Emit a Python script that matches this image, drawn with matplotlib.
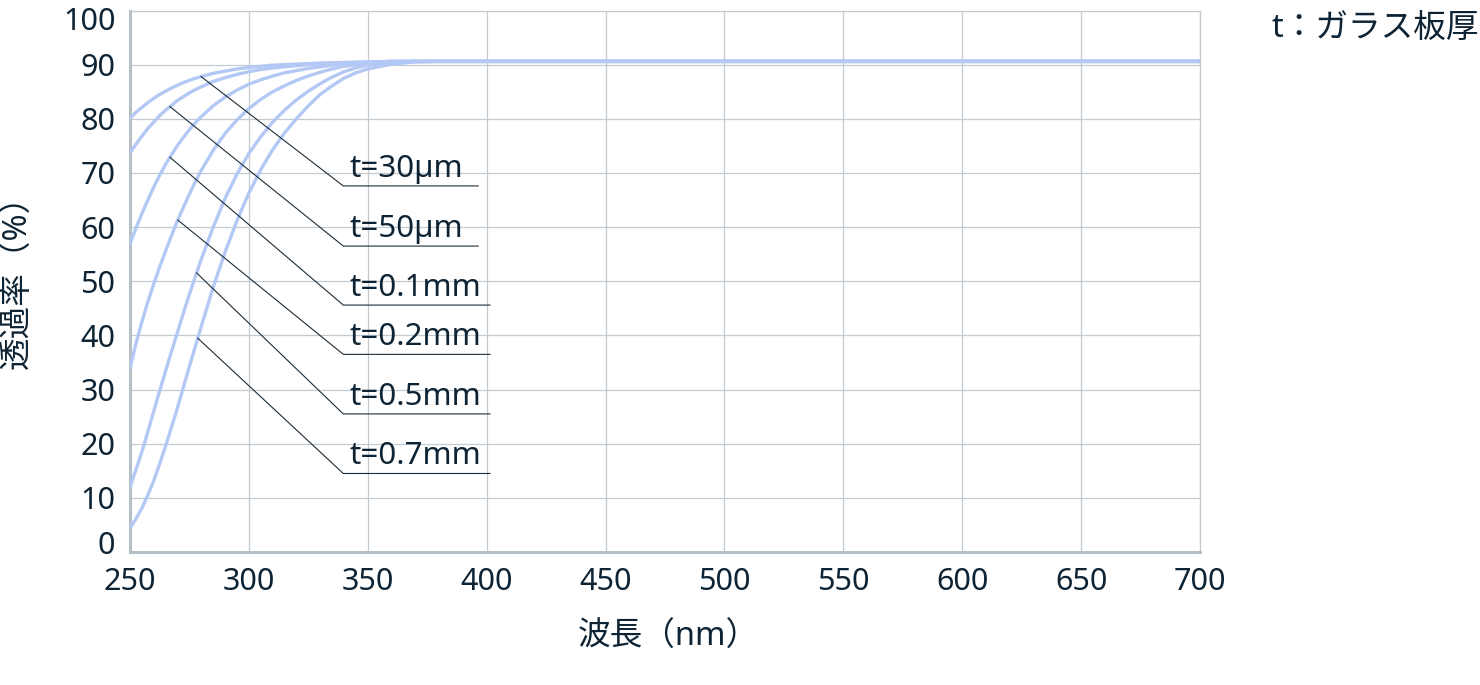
import matplotlib
matplotlib.use('Agg')
import matplotlib.pyplot as plt
from matplotlib.transforms import ScaledTranslation
import numpy as np

plt.rcParams['font.family'] = ['Noto Sans', 'Noto Sans CJK JP', 'DejaVu Sans']

# 波長 (nm)
wavelength = [250, 252.5, 255, 257.5, 260, 262.5, 265, 267.5, 270, 272.5, 275, 277.5, 280,
              285, 290, 295, 300, 305, 310, 315, 320, 325, 330, 335, 340, 345, 350,
              360, 370, 380, 700]

# 透過率 (%) — グラフから読み取り
t_30um = [80.1, 81.2, 82.1, 83.0, 83.8, 84.5, 85.1, 85.7, 86.2, 86.7, 87.1, 87.5, 87.8,
          88.4, 88.8, 89.2, 89.5, 89.7, 89.9, 90.0, 90.1, 90.2, 90.3, 90.35, 90.4, 90.45, 90.5,
          90.6, 90.6, 90.6, 90.6]
t_50um = [73.7, 75.3, 76.8, 78.2, 79.4, 80.6, 81.6, 82.5, 83.4, 84.1, 84.8, 85.4, 85.9,
          86.9, 87.6, 88.2, 88.7, 89.1, 89.4, 89.6, 89.8, 90.0, 90.1, 90.2, 90.3, 90.4, 90.5,
          90.6, 90.6, 90.6, 90.6]
t_01mm = [56.9, 59.8, 62.5, 65.0, 67.4, 69.6, 71.6, 73.4, 75.1, 76.6, 78.0, 79.3, 80.4,
          82.4, 84.0, 85.3, 86.4, 87.2, 87.9, 88.5, 88.9, 89.3, 89.6, 89.9, 90.1, 90.3, 90.4,
          90.6, 90.6, 90.6, 90.6]
t_02mm = [33.9, 38.5, 42.5, 46.2, 49.5, 52.7, 55.6, 58.5, 61.2, 63.7, 66.1, 68.4, 70.5,
          74.2, 77.3, 79.8, 81.9, 83.6, 85.0, 86.1, 87.1, 87.9, 88.6, 89.2, 89.7, 90.0, 90.3,
          90.5, 90.6, 90.6, 90.6]
t_05mm = [12.0, 15.2, 18.5, 22.2, 26.0, 29.8, 33.5, 37.1, 40.6, 44.2, 47.6, 50.9, 54.1,
          60.0, 65.3, 69.8, 73.6, 76.7, 79.4, 81.6, 83.5, 85.1, 86.5, 87.7, 88.7, 89.4, 89.9,
          90.4, 90.6, 90.6, 90.6]
t_07mm = [4.4, 6.1, 8.1, 10.5, 13.2, 16.3, 19.6, 23.1, 26.7, 30.5, 34.3, 38.0, 41.7,
          48.9, 55.4, 61.2, 66.3, 70.6, 74.3, 77.4, 80.0, 82.4, 84.5, 86.1, 87.5, 88.5, 89.2,
          90.1, 90.5, 90.6, 90.6]

series = [t_30um, t_50um, t_01mm, t_02mm, t_05mm, t_07mm]
labels = ['t=30µm', 't=50µm', 't=0.1mm', 't=0.2mm', 't=0.5mm', 't=0.7mm']

# ラベルの引き出し線
leader_from = [279.9, 266.8, 266.8, 270.1, 278.0, 278.5]   # 曲線上の波長
label_y = [67.6, 56.5, 45.6, 36.5, 25.5, 14.5]             # 下線の高さ
label_knee = 339.7
label_end = [396.4, 396.4, 401.4, 401.4, 401.4, 401.4]

curve_color = '#b3c8f4'
text_color = '#0e2434'
grid_color = '#c3cbd1'

fig = plt.figure(figsize=(14.8, 6.85), dpi=100)
ax = fig.add_axes([130 / 1480, 133 / 685, 1070 / 1480, 541.5 / 685])

for vals in series:
    ax.plot(wavelength, vals, color=curve_color, lw=2.4, solid_capstyle='round', zorder=3)

for vals, lab, x0, y1, x2 in zip(series, labels, leader_from, label_y, label_end):
    y0 = np.interp(x0, wavelength, vals)
    ax.plot([x0, label_knee, x2], [y0, y1, y1], color='#1c2c38', lw=0.8, zorder=4)
    ax.text(label_knee + 2.8, y1 + 1.7, lab, fontsize=22.5, color=text_color,
            ha='left', va='baseline', zorder=5)

ax.set_xlim(250, 700)
ax.set_ylim(0, 100)
ax.set_xticks(np.arange(250, 701, 50))
ax.set_yticks(np.arange(0, 101, 10))
ax.grid(True, color=grid_color, lw=0.9)
ax.set_axisbelow(True)

for side in ['top', 'right']:
    ax.spines[side].set_color(grid_color)
    ax.spines[side].set_linewidth(0.9)
for side in ['left', 'bottom']:
    ax.spines[side].set_color('#b5bfc6')
    ax.spines[side].set_linewidth(2.2)

ax.tick_params(length=0, labelsize=22, labelcolor=text_color)
ax.tick_params(axis='y', pad=10.5)
ax.tick_params(axis='x', pad=11)

# 0 と 100 のラベルは軸の内側へずらす
ylabels = ax.get_yticklabels()
ylabels[0].set_transform(ylabels[0].get_transform()
                         + ScaledTranslation(0, 0.09, fig.dpi_scale_trans))
ylabels[-1].set_transform(ylabels[-1].get_transform()
                          + ScaledTranslation(0, -0.085, fig.dpi_scale_trans))

fig.text(18 / 1480, 1 - 274 / 685, '透過率（%）', rotation=90, fontsize=23.5,
         color=text_color, ha='center', va='center')
fig.text(668 / 1480, 1 - 637 / 685, '波長（nm）', fontsize=23.5,
         color=text_color, ha='center', va='center')
fig.text(1479 / 1480, 1 - 28 / 685, 't：ガラス板厚', fontsize=23.5,
         color=text_color, ha='right', va='center')

fig.savefig('out.png', dpi=100)
